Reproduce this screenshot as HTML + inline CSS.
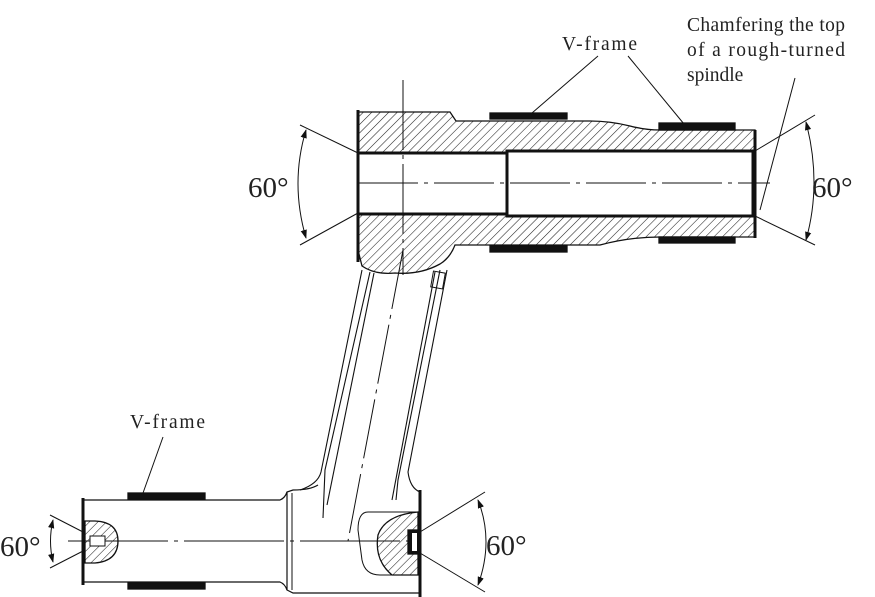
<!DOCTYPE html>
<html><head><meta charset="utf-8"><style>
html,body{margin:0;padding:0;background:#fff}
svg{display:block}
text{font-family:"Liberation Serif",serif;fill:#222}
</style></head><body>
<svg width="875" height="597" viewBox="0 0 875 597" xmlns="http://www.w3.org/2000/svg">
<defs>
<pattern id="h" patternUnits="userSpaceOnUse" width="6" height="6" patternTransform="rotate(45)">
<line x1="0" y1="0" x2="0" y2="6" stroke="#222" stroke-width="1.1"/>
</pattern>
<marker id="a" viewBox="0 0 10 10" refX="9" refY="5" markerWidth="9" markerHeight="9" orient="auto-start-reverse">
<path d="M0,1.5 L10,5 L0,8.5 z" fill="#111"/>
</marker>
</defs>
<g stroke="#111" fill="none" stroke-width="1.3">
<path d="M358,112 L450,112 L456,121 L590,121 Q610,121 630,126 Q645,130 660,130 L755,130 L755,151 L507,151 L507,153 L358,153 Z" fill="url(#h)"/>
<path d="M358,214 L507,214 L507,216 L755,216 L755,237 L660,237 Q630,237 600,245 L455,245 Q450,258 440,264 Q420,275 395,273 Q375,275 362,266 L358,250 Z" fill="url(#h)"/>
<rect x="358" y="153" width="149" height="61" stroke-width="3"/>
<rect x="507" y="151" width="246" height="65" stroke-width="3"/>
<line x1="358" y1="110" x2="358" y2="262" stroke-width="3"/>
<line x1="755" y1="130" x2="755" y2="238" stroke-width="3"/>
<rect x="490" y="113" width="77" height="6" fill="#111"/>
<rect x="659" y="123" width="76" height="7" fill="#111"/>
<rect x="490" y="246" width="77" height="6" fill="#111"/>
<rect x="659" y="237" width="76" height="6" fill="#111"/>
<line x1="358" y1="183" x2="770" y2="183" stroke-width="1" stroke-dasharray="60,6,4,6"/>
<line x1="403" y1="80" x2="403" y2="275" stroke-width="1" stroke-dasharray="70,5,4,5"/>
<line x1="300" y1="125" x2="358" y2="153" stroke-width="1"/>
<line x1="300" y1="245" x2="358" y2="213" stroke-width="1"/>
<path d="M306,130 Q290,183 306,238" stroke-width="1" marker-start="url(#a)" marker-end="url(#a)"/>
<line x1="815" y1="115" x2="755" y2="151" stroke-width="1"/>
<line x1="815" y1="245" x2="755" y2="216" stroke-width="1"/>
<path d="M806,122 Q822,183 806,240" stroke-width="1" marker-start="url(#a)" marker-end="url(#a)"/>
<line x1="598" y1="56" x2="532" y2="113" stroke-width="1"/>
<line x1="628" y1="56" x2="684" y2="124" stroke-width="1"/>
<line x1="795" y1="78" x2="760" y2="210" stroke-width="1"/>
<line x1="163" y1="437" x2="143" y2="493" stroke-width="1"/>
<path d="M362,270 L321,472 Q318,484 300,490" stroke-width="1.1"/>
<path d="M370,272 L325,470 L323,518" stroke-width="1.1"/>
<path d="M374,273 L327,505" stroke-width="1.1"/>
<path d="M447,270 L408,472 Q410,488 420,492" stroke-width="1.1"/>
<path d="M440,270 L398,480 L396,500" stroke-width="1.1"/>
<path d="M435,272 L392,500" stroke-width="1.1"/>
<rect x="432" y="272" width="12" height="16" stroke-width="1" transform="rotate(10 438 280)"/>
<line x1="403" y1="250" x2="348" y2="541" stroke-width="1" stroke-dasharray="60,6,4,6"/>
<path d="M83,500 L280,500 Q285,498 287,492 L293,490 Q310,490 318,485" stroke-width="1.2"/>
<path d="M83,582 L280,582 Q285,584 287,590 L293,593 L420,593" stroke-width="1.2"/>
<line x1="83" y1="498" x2="83" y2="585" stroke-width="3"/>
<line x1="287" y1="492" x2="287" y2="590" stroke-width="1.2"/>
<line x1="292" y1="493" x2="292" y2="590" stroke-width="1"/>
<line x1="420" y1="490" x2="420" y2="597" stroke-width="3"/>
<rect x="128" y="493" width="77" height="6" fill="#111"/>
<rect x="128" y="583" width="77" height="6" fill="#111"/>
<line x1="68" y1="541" x2="420" y2="541" stroke-width="1" stroke-dasharray="100,6,4,6"/>
<path d="M85,521 L95,521 Q118,522 118,541 Q118,561 95,563 L85,563 Z" fill="url(#h)"/>
<rect x="90" y="536" width="15" height="10" fill="#fff" stroke-width="1"/>
<path d="M368,512 L418,512 L418,575 L380,575 Q365,575 362,560 L358,530 Q358,512 368,512 Z" stroke-width="1"/>
<path d="M418,512 Q385,515 378,535 Q374,560 392,575 L418,575 Z" fill="url(#h)"/>
<rect x="408" y="530" width="10" height="24" fill="#111"/>
<rect x="412" y="533" width="5" height="18" fill="#fff" stroke="none"/>
<line x1="50" y1="515" x2="85" y2="533" stroke-width="1"/>
<line x1="50" y1="568" x2="85" y2="550" stroke-width="1"/>
<path d="M53,520 Q48,541 53,562" stroke-width="1" marker-start="url(#a)" marker-end="url(#a)"/>
<line x1="485" y1="492" x2="420" y2="532" stroke-width="1"/>
<line x1="485" y1="592" x2="420" y2="553" stroke-width="1"/>
<path d="M478,500 Q494,541 478,585" stroke-width="1" marker-start="url(#a)" marker-end="url(#a)"/>
</g>
<text x="248" y="197" font-size="29">60°</text>
<text x="812" y="197" font-size="29">60°</text>
<text x="0" y="556" font-size="29">60°</text>
<text x="486" y="555" font-size="29">60°</text>
<text x="562" y="50" font-size="19.5" textLength="75">V-frame</text>
<text x="130" y="428" font-size="19.5" textLength="75">V-frame</text>
<text x="687" y="31" font-size="19.5" textLength="158">Chamfering the top</text>
<text x="687" y="56" font-size="19.5" textLength="158">of a rough-turned</text>
<text x="687" y="81" font-size="19.5">spindle</text>
</svg>
</body></html>
